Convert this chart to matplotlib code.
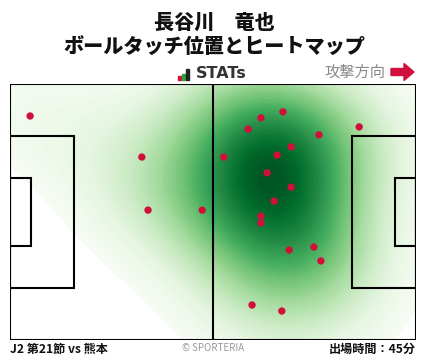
import numpy as np
import matplotlib
matplotlib.use("Agg")
import matplotlib.pyplot as plt
from matplotlib.patches import Rectangle, FancyArrow

plt.rcParams['font.family'] = ['Noto Sans CJK JP', 'DejaVu Sans']

# Ball touch positions (metres; x toward attacking goal, y from top touchline)
touch_x = [5.2, 34.1, 35.7, 49.7, 55.3, 61.6, 64.9, 70.6, 79.9, 90.3, 69.1,
           72.7, 66.5, 72.7, 68.3, 64.9, 64.9, 72.2, 78.6, 80.4, 62.6, 70.3]
touch_y = [8.5, 19.4, 33.5, 33.5, 19.4, 12.0, 9.0, 7.4, 13.5, 11.4, 18.9,
           16.7, 23.6, 27.4, 31.1, 35.1, 36.9, 44.1, 43.3, 47.0, 58.7, 60.3]

player = "長谷川　竜也"
subtitle = "ボールタッチ位置とヒートマップ"
match_label = "J2 第21節 vs 熊本"
minutes_label = "出場時間：45分"
direction_label = "攻撃方向"

L, W = 105.0, 68.0

fig = plt.figure(figsize=(4.28, 3.59), dpi=100)
fig.patch.set_facecolor('white')
ax = fig.add_axes([10 / 428, 19 / 359, 406 / 428, 256 / 359])
ax.set_xlim(0, L)
ax.set_ylim(W, 0)
ax.set_aspect('auto')
ax.axis('off')

# Gaussian KDE (Scott's rule widened, full covariance)
pts = np.vstack([touch_x, touch_y])
n = pts.shape[1]
factor = n ** (-1.0 / 6.0) * 1.45
cov = np.cov(pts) * factor ** 2
inv = np.linalg.inv(cov)
gx, gy = np.meshgrid(np.linspace(0, L, 300), np.linspace(0, W, 200))
grid = np.vstack([gx.ravel(), gy.ravel()])
diff = grid[:, :, None] - pts[:, None, :]
q = np.einsum('ijk,il,ljk->jk', diff, inv, diff)
dens = np.exp(-0.5 * q).sum(axis=1).reshape(gx.shape)
dens /= dens.max()

thresh = 0.07
levels = np.linspace(thresh, 1.0, 80)
ax.contourf(gx, gy, dens, levels=levels, cmap='Greens', vmin=thresh, vmax=1.05,
            extend='neither', zorder=1)

# Pitch markings
lw = 1.5
kw = dict(fill=False, edgecolor='black', linewidth=lw, zorder=3)
ax.add_patch(Rectangle((0, 0), L, W, **kw))
ax.plot([L / 2, L / 2], [0, W], color='black', lw=lw, zorder=3)
pb_d, pb_w = 16.5, 40.3
ga_d, ga_w = 5.5, 18.3
ax.add_patch(Rectangle((0, (W - pb_w) / 2), pb_d, pb_w, **kw))
ax.add_patch(Rectangle((L - pb_d, (W - pb_w) / 2), pb_d, pb_w, **kw))
ax.add_patch(Rectangle((0, (W - ga_w) / 2), ga_d, ga_w, **kw))
ax.add_patch(Rectangle((L - ga_d, (W - ga_w) / 2), ga_d, ga_w, **kw))

ax.scatter(touch_x, touch_y, s=28, color='#d0103a', edgecolors='none', zorder=4)

# Titles
fig.text(0.5, 1 - 22.5 / 359, player, ha='center', va='center',
         fontsize=14.5, fontweight='heavy', color='#111111')
fig.text(0.5, 1 - 47.5 / 359, subtitle, ha='center', va='center',
         fontsize=14.5, fontweight='heavy', color='#111111')

# STATs logo
bar_specs = [(177.5, 4, '#d0103a'), (181.5, 6, '#2e9e3e'), (185.5, 11, '#222222')]
for bx, bh, bc in bar_specs:
    fig.patches.append(Rectangle((bx / 428, 1 - 80 / 359), 3 / 428, bh / 359,
                                 transform=fig.transFigure, color=bc, figure=fig))
fig.text(196 / 428, 1 - 73.5 / 359, "STATs", ha='left', va='center',
         fontsize=11.5, fontweight='bold', color='#333333', family='DejaVu Sans')

# Attack direction
fig.text(385 / 428, 1 - 72 / 359, direction_label, ha='right', va='center',
         fontsize=11, color='#888888')
fig.patches.append(FancyArrow(391 / 428, 1 - 72 / 359, 13 / 428, 0,
                              width=7 / 359, head_width=17 / 359, head_length=10 / 428,
                              length_includes_head=False, color='#d0103a',
                              transform=fig.transFigure, figure=fig))

# Footer
fig.text(10 / 428, 1 - 349 / 359, match_label, ha='left', va='center',
         fontsize=8.7, fontweight='bold', color='#111111')
fig.text(213 / 428, 1 - 348 / 359, "© SPORTERIA", ha='center', va='center',
         fontsize=7, color='#999999')
fig.text(416 / 428, 1 - 349 / 359, minutes_label, ha='right', va='center',
         fontsize=8.7, fontweight='bold', color='#111111')

fig.savefig('out.png', dpi=100, facecolor='white')
